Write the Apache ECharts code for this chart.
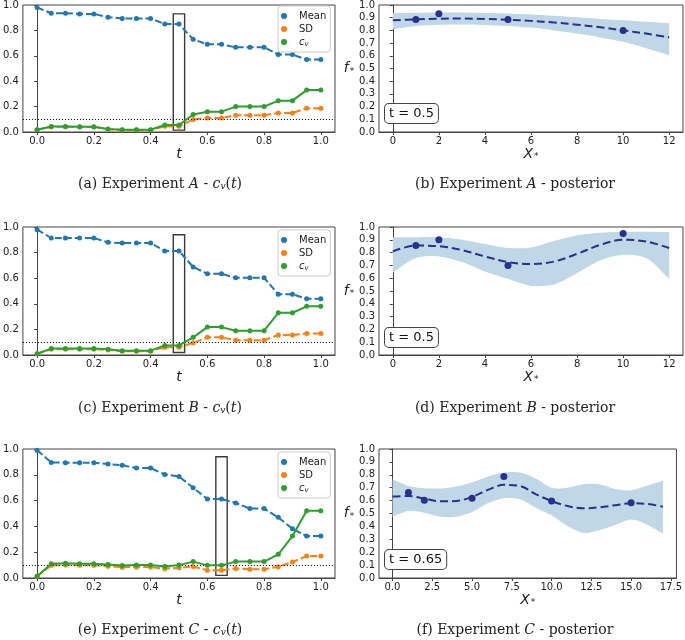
<!DOCTYPE html>
<html><head><meta charset="utf-8">
<script src="https://cdn.jsdelivr.net/npm/echarts@6/dist/echarts.min.js"></script>
<style>html,body{margin:0;padding:0;background:#fff}#c{width:685px;height:640px}</style>
</head><body><div id="c"></div><script>
// ---------- data ----------
const tValues = [0,0.05,0.1,0.15,0.2,0.25,0.3,0.35,0.4,0.45,0.5,0.55,0.6,0.65,0.7,0.75,0.8,0.85,0.9,0.95,1.0];

const meanA = [0.98,0.935,0.935,0.93,0.93,0.904,0.894,0.894,0.894,0.85,0.85,0.73,0.69,0.69,0.667,0.667,0.667,0.61,0.61,0.57,0.57];
const sdA   = [0.018,0.041,0.041,0.039,0.039,0.021,0.016,0.016,0.016,0.045,0.045,0.099,0.11,0.11,0.132,0.132,0.132,0.15,0.15,0.187,0.187];
const cvA   = [0.018,0.044,0.044,0.042,0.042,0.023,0.018,0.018,0.018,0.055,0.055,0.138,0.16,0.16,0.2,0.2,0.2,0.247,0.247,0.33,0.33];

const meanB = [0.979,0.914,0.914,0.914,0.914,0.88,0.875,0.875,0.875,0.813,0.813,0.688,0.634,0.634,0.603,0.603,0.603,0.475,0.475,0.439,0.439];
const sdB   = [0.01,0.045,0.045,0.045,0.045,0.04,0.03,0.03,0.03,0.061,0.061,0.095,0.138,0.138,0.115,0.115,0.115,0.157,0.157,0.167,0.167];
const cvB   = [0.01,0.05,0.05,0.05,0.05,0.044,0.034,0.034,0.034,0.075,0.075,0.138,0.218,0.218,0.19,0.19,0.19,0.33,0.33,0.38,0.38];

const meanC = [0.99,0.896,0.894,0.894,0.894,0.883,0.875,0.852,0.852,0.803,0.787,0.70,0.613,0.613,0.582,0.538,0.538,0.47,0.382,0.325,0.325];
const sdC   = [0.013,0.099,0.10,0.098,0.098,0.092,0.084,0.085,0.085,0.072,0.079,0.089,0.06,0.06,0.074,0.068,0.068,0.087,0.124,0.17,0.17];
const cvC   = [0.013,0.11,0.114,0.11,0.11,0.104,0.096,0.1,0.1,0.09,0.1,0.127,0.098,0.098,0.127,0.127,0.127,0.184,0.325,0.522,0.522];

const threshold = 0.1;
// [t0, t1, y0, y1] of highlighted time window
const boxA = [0.48, 0.52, 0.015, 0.93];
const boxB = [0.48, 0.52, 0.02, 0.94];
const boxC = [0.63, 0.67, 0.02, 0.94];

const postXAB = [0,1,2,3,4,5,6,7,8,9,10,11,12];
const postMeanA  = [0.88,0.887,0.892,0.893,0.89,0.884,0.875,0.862,0.845,0.825,0.80,0.775,0.745];
const postUpperA = [0.935,0.938,0.94,0.94,0.937,0.933,0.925,0.915,0.903,0.89,0.88,0.868,0.857];
const postLowerA = [0.81,0.835,0.845,0.847,0.843,0.835,0.822,0.80,0.775,0.745,0.71,0.66,0.605];
const obsXA = [1,2,5,10];
const obsYA = [0.886,0.932,0.886,0.80];

const postMeanB  = [0.81,0.855,0.85,0.82,0.77,0.726,0.71,0.73,0.79,0.86,0.90,0.887,0.836];
const postUpperB = [0.92,0.92,0.92,0.90,0.867,0.836,0.84,0.89,0.935,0.955,0.963,0.963,0.96];
const postLowerB = [0.645,0.757,0.77,0.726,0.653,0.595,0.54,0.55,0.64,0.739,0.783,0.757,0.595];
const obsXB = [1,2,5,10];
const obsYB = [0.856,0.90,0.70,0.95];

const postXC = [0,1,2,3,4,5,6,7,8,9,10,11,12,13,14,15,16,17];
const postMeanC  = [0.631,0.636,0.616,0.595,0.597,0.629,0.683,0.722,0.714,0.65,0.597,0.558,0.54,0.548,0.564,0.579,0.574,0.553];
const postUpperC = [0.766,0.714,0.696,0.694,0.709,0.74,0.787,0.818,0.818,0.771,0.70,0.70,0.727,0.727,0.69,0.68,0.715,0.753];
const postLowerC = [0.475,0.52,0.506,0.475,0.475,0.512,0.579,0.618,0.61,0.545,0.486,0.403,0.35,0.37,0.41,0.453,0.415,0.344];
const obsXC = [1,2,5,7,10,15];
const obsYC = [0.662,0.603,0.618,0.787,0.597,0.584];

const leftXTicks = [0,0.2,0.4,0.6,0.8,1.0];
const rightXTicksAB = [0,2,4,6,8,10,12];
const rightXTicksC = [0,2.5,5,7.5,10,12.5,15,17.5];
const tLabels = ['t = 0.5','t = 0.5','t = 0.65'];
const captionLetters = ['(a)','(b)','(c)','(d)','(e)','(f)'];
const experiments = ['A','B','C'];

// ---------- layout / style ----------
const rowTop = [3, 227, 449];
const rowH = [129, 128, 129];
const C_MEAN = '#1f77b4', C_SD = '#ff7f0e', C_CV = '#2ca02c';
const C_POST = '#28318c', C_BAND = '#bfd7e7';
const FONT = 'DejaVu Sans';

const leftPanels = [
  {mean: meanA, sd: sdA, cv: cvA, box: boxA},
  {mean: meanB, sd: sdB, cv: cvB, box: boxB},
  {mean: meanC, sd: sdC, cv: cvC, box: boxC}
];
const rightPanels = [
  {x: postXAB, mean: postMeanA, up: postUpperA, lo: postLowerA, ox: obsXA, oy: obsYA, min: -0.6, max: 12.6, ticks: rightXTicksAB, width: 304, dec: 0},
  {x: postXAB, mean: postMeanB, up: postUpperB, lo: postLowerB, ox: obsXB, oy: obsYB, min: -0.6, max: 12.6, ticks: rightXTicksAB, width: 304, dec: 0},
  {x: postXC, mean: postMeanC, up: postUpperC, lo: postLowerC, ox: obsXC, oy: obsYC, min: -0.85, max: 17.85, ticks: rightXTicksC, width: 300, dec: 1}
];

const grids = [], xAxes = [], yAxes = [], series = [], legends = [], graphics = [];
const labelStyle = {fontSize: 10, color: '#222', fontFamily: FONT};

function bandRenderer(R) {
  return function (params, api) {
    if (params.dataIndex !== 0) return null;
    const up = R.x.map((x, k) => api.coord([x, R.up[k]]));
    const lo = R.x.map((x, k) => api.coord([x, R.lo[k]])).reverse();
    // doubled corner vertices keep the end edges straight while the curves stay smooth
    const pts = [up[0]].concat(up, [up[up.length - 1], lo[0]], lo, [lo[lo.length - 1]]);
    return {type: 'polygon', shape: {points: pts, smooth: 0.3},
      style: {fill: C_BAND, stroke: null}, silent: true};
  };
}

for (let r = 0; r < 3; r++) {
  // ----- left panel -----
  const gi = grids.length;
  grids.push({left: 19, top: rowTop[r], width: 316, height: rowH[r], show: true, borderColor: '#444', borderWidth: 1, backgroundColor: 'transparent'});
  xAxes.push({gridIndex: gi, type: 'value', min: -0.05, max: 1.05,
    axisLine: {show: true, lineStyle: {color: '#444'}},
    axisTick: {show: true, length: 3, customValues: leftXTicks, lineStyle: {color: '#444'}},
    axisLabel: Object.assign({customValues: leftXTicks, margin: 4, formatter: v => v.toFixed(1)}, labelStyle),
    splitLine: {show: false},
    name: 't', nameLocation: 'middle', nameGap: 13,
    nameTextStyle: {fontSize: 14, fontStyle: 'italic', fontFamily: FONT, color: '#222'}});
  yAxes.push({gridIndex: gi, type: 'value', min: 0, max: 1, interval: 0.2,
    axisLine: {show: true, lineStyle: {color: '#444'}},
    axisTick: {show: true, length: 3, lineStyle: {color: '#444'}},
    axisLabel: Object.assign({margin: 4, formatter: v => v.toFixed(1)}, labelStyle),
    splitLine: {show: false}});
  const P = leftPanels[r];
  const pts = arr => tValues.map((t, k) => [t, arr[k]]);
  series.push({name: 'Mean', type: 'line', xAxisIndex: gi, yAxisIndex: gi, data: pts(P.mean),
    symbol: 'circle', symbolSize: 5, color: C_MEAN, lineStyle: {width: 2, type: [7, 3]}, z: 3,
    markLine: {silent: true, symbol: 'none', label: {show: false}, animation: false,
      lineStyle: {type: [1, 2], color: '#000', width: 1}, data: [{yAxis: threshold}]},
    markArea: {silent: true, itemStyle: {color: 'rgba(0,0,0,0)', borderColor: '#3a3a3a', borderWidth: 1.4},
      data: [[{coord: [P.box[0], P.box[2]]}, {coord: [P.box[1], P.box[3]]}]]}});
  series.push({name: 'SD', type: 'line', xAxisIndex: gi, yAxisIndex: gi, data: pts(P.sd),
    symbol: 'circle', symbolSize: 5, color: C_SD, lineStyle: {width: 2, type: [7, 3]}, z: 4});
  series.push({name: 'cv', type: 'line', xAxisIndex: gi, yAxisIndex: gi, data: pts(P.cv),
    symbol: 'circle', symbolSize: 5, color: C_CV, lineStyle: {width: 2}, z: 5});
  legends.push({orient: 'vertical', left: 278, top: rowTop[r] + 3,
    data: [{name: 'Mean', icon: 'circle'}, {name: 'SD', icon: 'circle'}, {name: 'cv', icon: 'circle'}],
    itemWidth: 20, itemHeight: 6, itemGap: 1, padding: [4, 4, 4, 3],
    borderColor: '#ccc', borderWidth: 1, borderRadius: 3, backgroundColor: '#fff',
    selectedMode: false,
    formatter: n => n === 'cv' ? '{c|c}{v|v}' : n,
    textStyle: {fontSize: 10, color: '#222', fontFamily: FONT, lineHeight: 12,
      rich: {c: {fontSize: 10, fontStyle: 'italic', fontFamily: FONT, color: '#222'},
             v: {fontSize: 7, fontStyle: 'italic', fontFamily: FONT, color: '#222', verticalAlign: 'bottom', padding: [4, 0, 0, 0]}}}});

  // ----- right panel -----
  const gj = grids.length;
  const R = rightPanels[r];
  grids.push({left: 379, top: rowTop[r], width: R.width, height: rowH[r], show: true, borderColor: '#444', borderWidth: 1, backgroundColor: 'transparent'});
  xAxes.push({gridIndex: gj, type: 'value', min: R.min, max: R.max,
    axisLine: {show: true, lineStyle: {color: '#444'}},
    axisTick: {show: true, length: 3, customValues: R.ticks, lineStyle: {color: '#444'}},
    axisLabel: Object.assign({customValues: R.ticks, margin: 4, formatter: v => v.toFixed(R.dec)}, labelStyle),
    splitLine: {show: false},
    name: '{i|X}{s|*}', nameLocation: 'middle', nameGap: 13,
    nameTextStyle: {fontSize: 14, color: '#222', fontFamily: FONT,
      rich: {i: {fontSize: 14, fontStyle: 'italic', fontFamily: FONT, color: '#222'},
             s: {fontSize: 9, fontFamily: FONT, color: '#222', verticalAlign: 'bottom', padding: [6, 0, 0, 1]}}}});
  yAxes.push({gridIndex: gj, type: 'value', min: 0, max: 1, interval: 0.1,
    axisLine: {show: true, lineStyle: {color: '#444'}},
    axisTick: {show: true, length: 3, lineStyle: {color: '#444'}},
    axisLabel: Object.assign({margin: 4, formatter: v => v.toFixed(1)}, labelStyle),
    splitLine: {show: false},
    name: '{i|f}{s|*}', nameLocation: 'middle', nameRotate: 0, nameGap: 20,
    nameTextStyle: {fontSize: 14, color: '#222', fontFamily: FONT, align: 'right',
      rich: {i: {fontSize: 14, fontStyle: 'italic', fontFamily: FONT, color: '#222'},
             s: {fontSize: 9, fontFamily: FONT, color: '#222', verticalAlign: 'bottom', padding: [6, 0, 0, 1]}}}});
  series.push({name: 'band' + r, type: 'custom', xAxisIndex: gj, yAxisIndex: gj,
    data: R.x.map((x, k) => [x, R.lo[k], R.up[k]]), encode: {x: 0, y: [1, 2]},
    renderItem: bandRenderer(R), silent: true, z: 1});
  series.push({name: 'postMean' + r, type: 'line', xAxisIndex: gj, yAxisIndex: gj,
    data: R.x.map((x, k) => [x, R.mean[k]]), smooth: 0.35, symbol: 'none',
    color: C_POST, lineStyle: {width: 2, type: [8, 4]}, z: 3});
  series.push({name: 'obs' + r, type: 'scatter', xAxisIndex: gj, yAxisIndex: gj,
    data: R.ox.map((x, k) => [x, R.oy[k]]), symbolSize: 7, color: C_POST,
    itemStyle: {opacity: 1}, z: 4});

  // t = ... annotation box
  graphics.push({type: 'text', x: 385, y: rowTop[r] + 101, z: 10,
    style: {text: tLabels[r], font: '13px "DejaVu Sans"', fill: '#111',
      backgroundColor: '#fff', borderColor: '#444', borderWidth: 1, borderRadius: 4, padding: [3, 4, 3, 4]}});

  // captions
  const capY = [184, 408, 630][r];
  const rich = {
    n: {font: '14px "DejaVu Serif"', fill: '#222'},
    i: {font: 'italic 14px "DejaVu Serif"', fill: '#222'},
    s: {font: 'italic 9px "DejaVu Serif"', fill: '#222', verticalAlign: 'bottom', padding: [5, 0, 0, 0]}
  };
  graphics.push({type: 'text', x: 160, y: capY,
    style: {text: '{n|' + captionLetters[2 * r] + ' Experiment }{i|' + experiments[r] + '}{n| - }{i|c}{s|v}{n|(}{i|t}{n|)}',
      rich: rich, align: 'center', verticalAlign: 'middle'}});
  graphics.push({type: 'text', x: 515, y: capY,
    style: {text: '{n|' + captionLetters[2 * r + 1] + ' Experiment }{i|' + experiments[r] + '}{n| - posterior}',
      rich: rich, align: 'center', verticalAlign: 'middle'}});
}

const chart = echarts.init(document.getElementById('c'), null, {renderer: 'canvas'});
chart.setOption({
  animation: false,
  backgroundColor: '#fff',
  grid: grids, xAxis: xAxes, yAxis: yAxes, series: series, legend: legends,
  graphic: graphics
});
</script></body></html>
